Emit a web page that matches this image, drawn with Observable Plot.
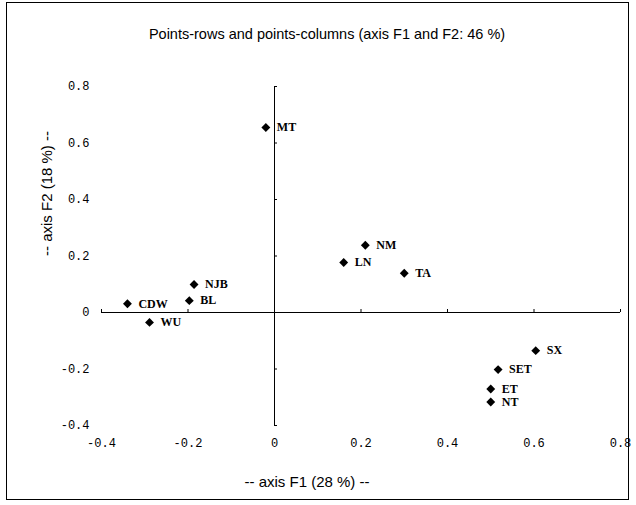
<!DOCTYPE html>
<html><head><meta charset="utf-8">
<script src="https://cdn.jsdelivr.net/npm/d3@7"></script>
<script src="https://cdn.jsdelivr.net/npm/@observablehq/plot@0.6"></script>
<style>
body{margin:0;background:#fff;}
#wrap{position:relative;width:636px;height:505px;}
#border{position:absolute;left:6px;top:2px;width:623px;height:498px;border:1px solid #000;box-sizing:border-box;pointer-events:none;}
</style>
</head><body>
<div id="wrap"><div id="border"></div></div>
<script>
const labels = ["MT","NM","LN","TA","CDW","NJB","BL","WU","SX","SET","ET","NT"];
const f1 = [-0.02, 0.21, 0.16, 0.30, -0.34, -0.186, -0.197, -0.289, 0.604, 0.517, 0.50, 0.50];
const f2 = [0.655, 0.238, 0.177, 0.139, 0.031, 0.099, 0.042, -0.035, -0.135, -0.202, -0.271, -0.317];
const xTicks = [-0.4, -0.2, 0, 0.2, 0.4, 0.6, 0.8];
const yTicks = [-0.4, -0.2, 0, 0.2, 0.4, 0.6, 0.8];
const title = "Points-rows and points-columns (axis F1 and F2: 46 %)";
const xTitle = "-- axis F1 (28 %) --";
const yTitle = "-- axis F2 (18 %) --";

const pts = labels.map((l, i) => ({label: l, x: f1[i], y: f2[i]}));
const mono = "'Liberation Mono', 'DejaVu Sans Mono', monospace";
const sans = "'Liberation Sans', Arial, sans-serif";
const serif = "'Liberation Serif', 'Times New Roman', serif";

const chart = Plot.plot({
  width: 636, height: 505,
  marginLeft: 101, marginRight: 16, marginTop: 86, marginBottom: 80,
  x: {domain: [-0.4, 0.8], axis: null},
  y: {domain: [-0.4, 0.8], axis: null},
  style: {background: "transparent", color: "#000"},
  marks: [
    Plot.ruleY([0], {x1: -0.4, x2: 0.8, stroke: "#000", strokeWidth: 1}),
    Plot.ruleX([0], {y1: -0.4, y2: 0.8, stroke: "#000", strokeWidth: 1}),
    Plot.ruleY(yTicks, {y: d => d, x1: 0, x2: 0, insetRight: -3, stroke: "#000"}),
    Plot.ruleX(xTicks, {x: d => d, y1: 0, y2: 0, insetBottom: 3, stroke: "#000"}),
    Plot.text(xTicks, {x: d => d, y: -0.4, text: d => String(d), dy: 18, fontFamily: mono, fontSize: 12, fill: "#000"}),
    Plot.text(yTicks, {x: -0.4, y: d => d, text: d => String(d), dx: -12, textAnchor: "end", fontFamily: mono, fontSize: 12, fill: "#000"}),
    Plot.dot(pts, {x: "x", y: "y", symbol: "diamond2", r: 4, fill: "#000", stroke: "none"}),
    Plot.text(pts, {x: "x", y: "y", text: "label", dx: 11, textAnchor: "start", fontFamily: serif, fontSize: 12, fontWeight: "bold", fill: "#000"}),
    Plot.text([title], {frameAnchor: "top", lineAnchor: "middle", text: d => d, dy: -52, dx: -34, fontFamily: sans, fontSize: 14.5, fill: "#000"}),
    Plot.text([xTitle], {frameAnchor: "bottom", lineAnchor: "middle", text: d => d, dy: 57, dx: -54, fontFamily: sans, fontSize: 15, fill: "#000"}),
    Plot.text([yTitle], {frameAnchor: "left", text: d => d, dx: -54, rotate: -90, fontFamily: sans, fontSize: 15, fill: "#000"})
  ]
});
document.getElementById("wrap").appendChild(chart);
</script>
</body></html>
